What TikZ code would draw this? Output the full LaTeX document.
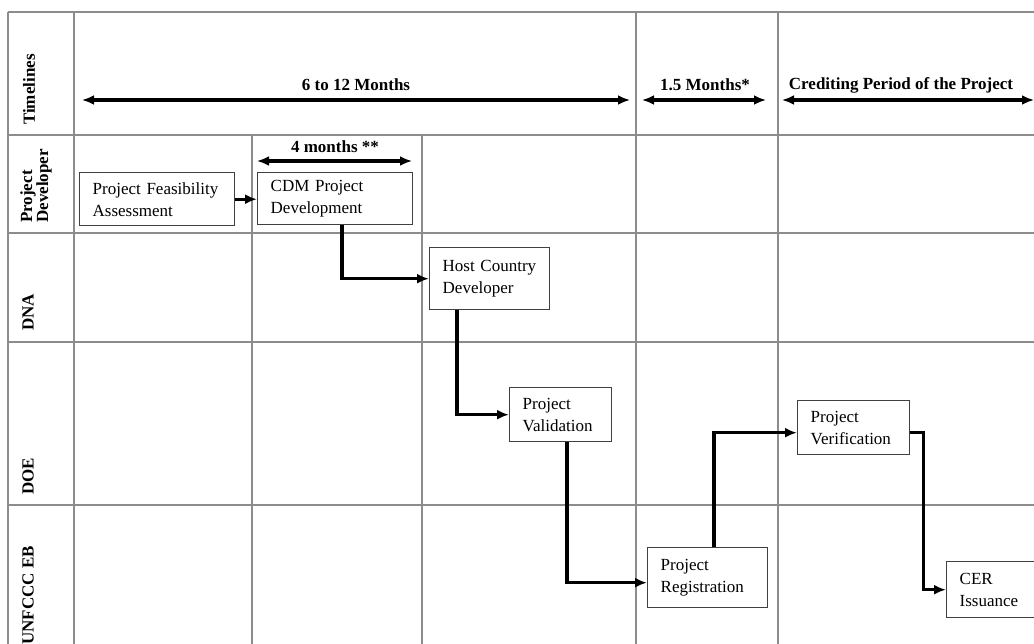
\documentclass[tikz,border=0pt]{standalone}
\usepackage{fontspec}
\setmainfont{Liberation Serif}
\usetikzlibrary{arrows.meta,calc}
\definecolor{gridgray}{HTML}{8C8C8C}
\definecolor{boxgray}{HTML}{404040}
\begin{document}
\begin{tikzpicture}[x=1pt,y=-1pt,
  grid/.style={draw=gridgray, line width=1.2pt},
  box/.style={draw=boxgray, line width=1.4pt, anchor=north west, align=left,
    inner xsep=13pt, inner ysep=0pt, font=\fontsize{17}{22}\selectfont},
  flow/.style={line width=3.4pt, -{Latex[length=12pt,width=10pt]}},
  span/.style={line width=3.4pt, {Latex[length=12pt,width=10pt]}-{Latex[length=12pt,width=10pt]}},
  lane/.style={rotate=90, anchor=west, align=left, inner sep=0pt,
    font=\bfseries\fontsize{17}{16}\selectfont},
  tl/.style={inner sep=0pt, font=\bfseries\fontsize{17}{20}\selectfont}
]
\useasboundingbox (0,0) rectangle (1034,643);
\clip (0,0) rectangle (1034,643);

% table grid
\foreach \y in {12,135,233,342,505} \draw[grid] (8,\y) -- (1045,\y);
\foreach \x in {8,74,636,778} \draw[grid] (\x,12) -- (\x,660);
\foreach \x in {252,422} \draw[grid] (\x,135) -- (\x,660);

% lane labels
\node[lane] (lT) at (29,125) {Timelines};
\node[lane] (lPD) at (36,223) {Project\\Developer};
\node[lane] (lDNA) at (28,331) {DNA};
\node[lane] (lDOE) at (28,495) {DOE};
\node[lane] (lEB) at (28,645) {UNFCCC EB};

% timelines
\coordinate (s1a) at (82,100);  \coordinate (s1b) at (630,100);
\coordinate (s2a) at (642,100); \coordinate (s2b) at (766,100);
\coordinate (s3a) at (782,100); \coordinate (s3b) at (1034,100);
\coordinate (s4a) at (257,161); \coordinate (s4b) at (412,161);
\draw[span] (s1a) -- (s1b);
\draw[span] (s2a) -- (s2b);
\draw[span] (s3a) -- (s3b);
\draw[span] (s4a) -- (s4b);
\node[tl] (m1) at (356,85) {6 to 12 Months};
\node[tl] (m2) at (705,85) {1.5 Months*};
\node[tl] (m3) at (901,85) {Crediting Period of the Project};
\node[tl] (m4) at (335,147) {4 months **};

% process boxes
\node[box, text width=129pt, minimum height=53pt] (A) at (79,172) {Project Feasibility\\Assessment};
\node[box, text width=129pt, minimum height=52pt] (B) at (257,172) {CDM Project\\Development};
\node[box, text width=94pt, minimum height=62pt] (C) at (429,247) {Host Country\\Developer};
\node[box, text width=76pt, minimum height=54pt] (D) at (509,387) {Project\\Validation};
\node[box, text width=94pt, minimum height=60pt] (E) at (647,547) {Project\\Registration};
\node[box, text width=86pt, minimum height=54pt] (F) at (797,400) {Project\\Verification};
\node[box, text width=80pt, minimum height=56pt] (G) at (946,561) {CER\\Issuance};

% connectors
\draw[flow] (A.east) -- (A.east -| B.west);
\draw[flow] ([xshift=85pt]B.south west) |- (C.west);
\draw[flow] ([xshift=28pt]C.south west) |- (D.west);
\draw[flow] ([xshift=58pt]D.south west) |- ([yshift=-5pt]E.west);
\draw[flow] ([xshift=67pt]E.north west) |- ([yshift=-5pt]F.west);
\draw[flow] ([yshift=-5pt]F.east) -- ++(13,0) |- (G.west);
\end{tikzpicture}
\end{document}
